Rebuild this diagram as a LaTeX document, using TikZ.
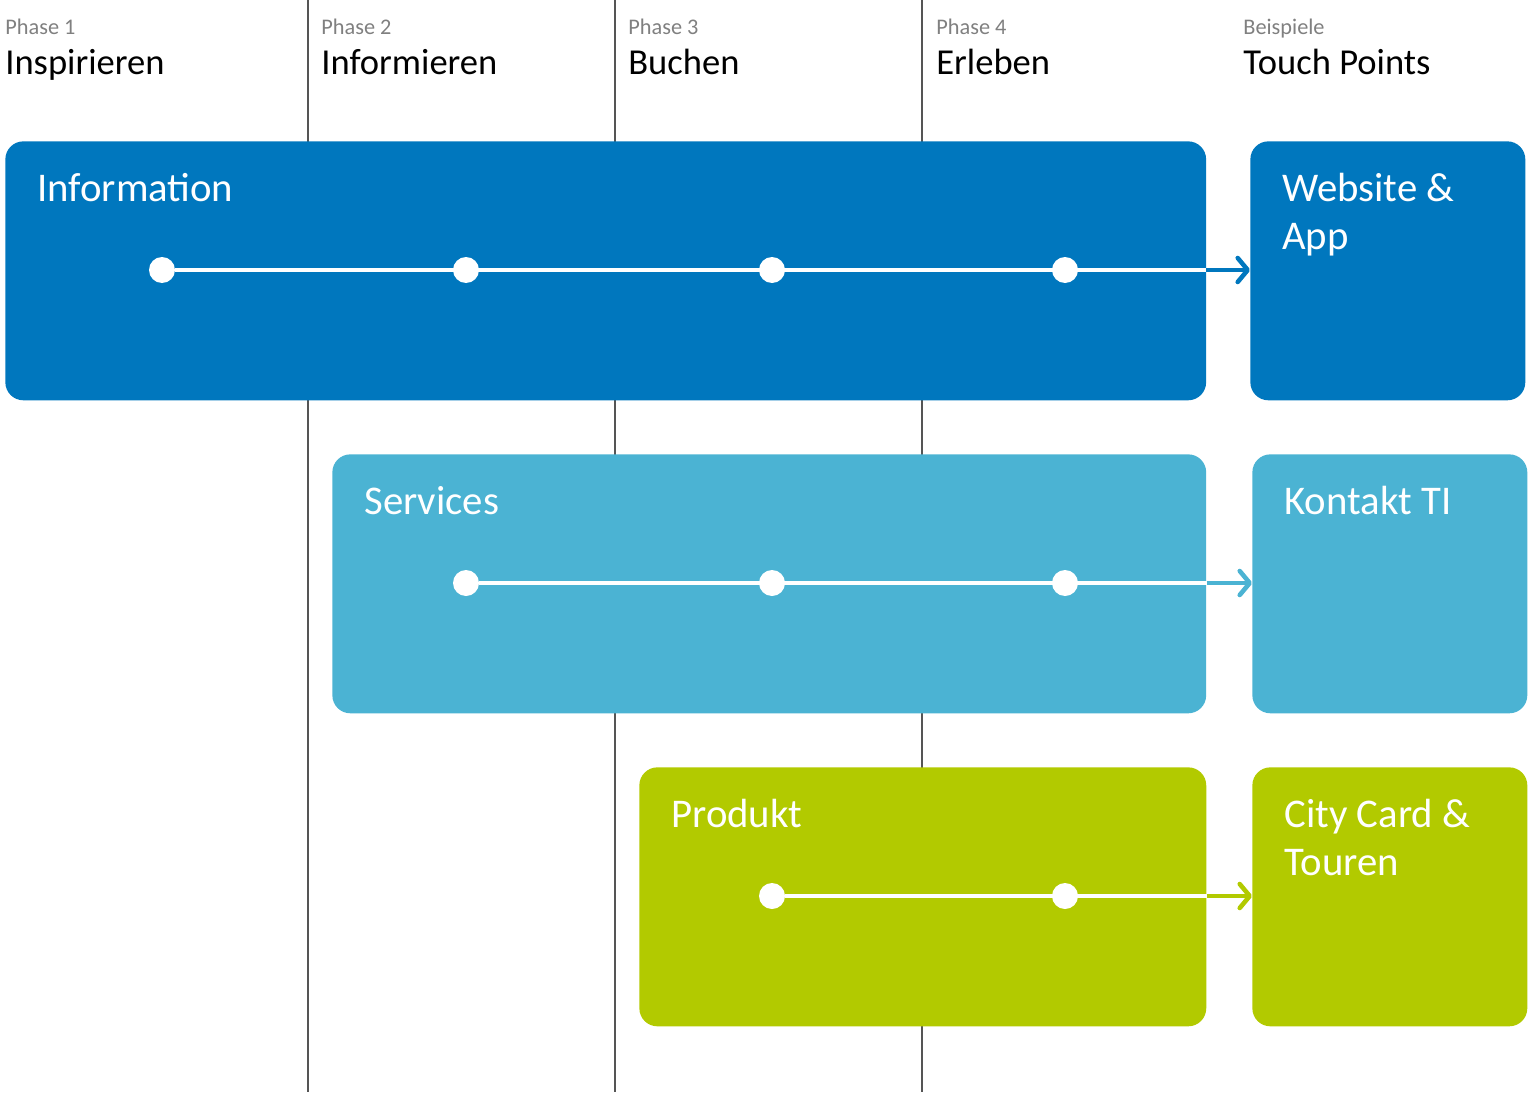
\documentclass[tikz,border=0pt]{standalone}
\usepackage{fontspec}
\setmainfont{Carlito}
\usetikzlibrary{positioning,arrows.meta}
\definecolor{infoblue}{RGB}{0,119,190}
\definecolor{servblue}{RGB}{75,179,211}
\definecolor{prodgreen}{RGB}{178,202,0}
\definecolor{phasegray}{RGB}{128,128,128}
\definecolor{linegray}{RGB}{85,85,85}
\begin{document}
\begin{tikzpicture}[x=0.02cm, y=-0.02cm,
  phase/.style={anchor=base west, inner sep=0pt, text=phasegray, font=\fontsize{12.7}{15}\selectfont},
  stage/.style={anchor=base west, inner sep=0pt, font=\fontsize{20.8}{24}\selectfont},
  box/.style={rectangle, rounded corners=0.36cm, anchor=north west, minimum height=5.18cm, inner sep=0pt},
  title/.style={anchor=base west, inner sep=0pt, align=left, text=white, font=\fontsize{23.2}{27.2}\selectfont},
  dot/.style={circle, fill=white, minimum size=0.52cm, inner sep=0pt},
  track/.style={draw=white, line width=2.3pt},
  link/.style={line width=2.6pt, -{Straight Barb[length=0.2cm, width=0.48cm, round]}}]
\useasboundingbox (0,0) rectangle (1528,1092);

% Phase columns
\foreach \x in {308,615,922}
  \draw [linegray, line width=1pt] (\x,0) -- (\x,1092);

% Header
\node (ph1) [phase] at (5,34) {Phase 1};
\node (st1) [stage] at (5,74) {Inspirieren};
\node (ph2) [phase] at (321,34) {Phase 2};
\node (st2) [stage] at (321,74) {Informieren};
\node (ph3) [phase] at (628,34) {Phase 3};
\node (st3) [stage] at (628,74) {Buchen};
\node (ph4) [phase] at (936,34) {Phase 4};
\node (st4) [stage] at (936,74) {Erleben};
\node (ph5) [phase] at (1243,34) {Beispiele};
\node (st5) [stage] at (1243,74) {Touch Points};

% Information
\node (info) [box, fill=infoblue, minimum width=24.02cm] at (5,141) {};
\node (web)  [box, fill=infoblue, minimum width=5.50cm] at (1250,141) {};
\node (infot) [title] at ([shift={(32,60)}]info.north west) {Information};
\node (webt)  [title] at ([shift={(32,108)}]web.north west) {Website \&\\App};
\node (i1) [dot] at (162,270) {};
\node (i2) [dot] at (466,270) {};
\node (i3) [dot] at (772,270) {};
\node (i4) [dot] at (1065,270) {};
\draw [track] (i1) -- (i4 -| info.east);
\draw [link, infoblue] (i4 -| info.east) -- (i4 -| web.west);

% Services
\node (serv) [box, fill=servblue, minimum width=17.48cm] at (332,454) {};
\node (ti)   [box, fill=servblue, minimum width=5.50cm] at (1252,454) {};
\node (servt) [title] at ([shift={(32,60)}]serv.north west) {Services};
\node (tit)   [title] at ([shift={(32,60)}]ti.north west) {Kontakt TI};
\node (s1) [dot] at (466,583) {};
\node (s2) [dot] at (772,583) {};
\node (s3) [dot] at (1065,583) {};
\draw [track] (s1) -- (s3 -| serv.east);
\draw [link, servblue] (s3 -| serv.east) -- (s3 -| ti.west);

% Produkt
\node (prod) [box, fill=prodgreen, minimum width=11.34cm] at (639,767) {};
\node (card) [box, fill=prodgreen, minimum width=5.50cm] at (1252,767) {};
\node (prodt) [title] at ([shift={(32,60)}]prod.north west) {Produkt};
\node (cardt) [title] at ([shift={(32,108)}]card.north west) {City Card \&\\Touren};
\node (p1) [dot] at (772,896) {};
\node (p2) [dot] at (1065,896) {};
\draw [track] (p1) -- (p2 -| prod.east);
\draw [link, prodgreen] (p2 -| prod.east) -- (p2 -| card.west);

\end{tikzpicture}
\end{document}
